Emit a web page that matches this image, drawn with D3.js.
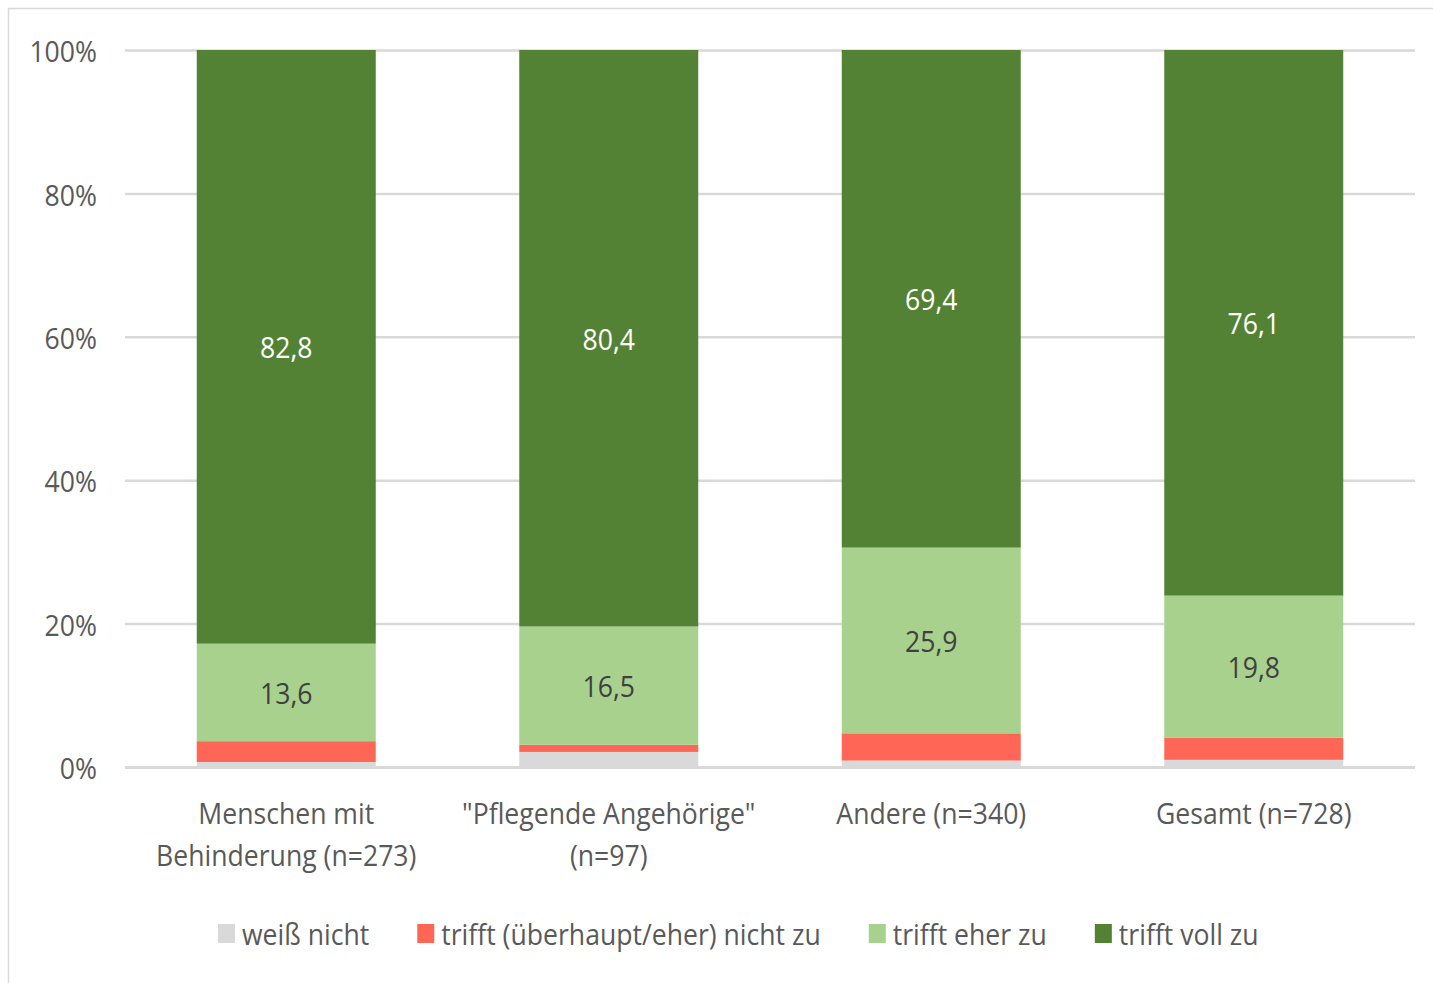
<!DOCTYPE html>
<html>
<head>
<meta charset="utf-8">
<script src="https://cdn.jsdelivr.net/npm/d3@7"></script>
<style>
  body { margin: 0; background: #fff; }
  svg text { font-family: "Open Sans", sans-serif; }
</style>
</head>
<body>
<div id="chart"></div>
<script>
// Daten
const categories = ['Menschen mit Behinderung (n=273)', '"Pflegende Angehörige" (n=97)', 'Andere (n=340)', 'Gesamt (n=728)'];
const categoryLines = [['Menschen mit', 'Behinderung (n=273)'], ['"Pflegende Angehörige"', '(n=97)'], ['Andere (n=340)'], ['Gesamt (n=728)']];
const seriesNames = ['weiß nicht', 'trifft (überhaupt/eher) nicht zu', 'trifft eher zu', 'trifft voll zu'];
const weissNicht = [0.7, 2.1, 0.9, 1.0];
const trifftNicht = [2.9, 1.0, 3.8, 3.1];
const trifftEher = [13.6, 16.5, 25.9, 19.8];
const trifftVoll = [82.8, 80.4, 69.4, 76.1];
const yTicks = [0, 20, 40, 60, 80, 100];

const colors = ['#d9d9d9', '#ff6655', '#a9d18e', '#548235'];
const labelColors = [null, null, '#404040', '#ffffff'];
const showLabel = [false, false, true, true];

// Größe
const width = 1433;
const height = 983;
const stretch = 1.12;  // Schrift etwas höher als breit
const fontSize = 26.6;

const svg = d3.select('#chart')
  .append('svg')
  .attr('width', width)
  .attr('height', height);

// Rahmen
svg.append('rect')
  .attr('x', 8.5).attr('y', 8.5)
  .attr('width', 1440).attr('height', 990)
  .attr('fill', 'none')
  .attr('stroke', '#d9d9d9')
  .attr('stroke-width', 1.5);

const x = d3.scaleBand()
  .domain(categories)
  .range([125, 1415])
  .paddingInner(0.445)
  .paddingOuter(0.2225);

const y = d3.scaleLinear()
  .domain([0, 100])
  .range([767, 50]);

// Gitterlinien + y-Achse
const yAxis = svg.append('g')
  .attr('transform', 'translate(125,0)')
  .call(d3.axisLeft(y).tickValues(yTicks).tickSize(-1290).tickFormat(d => d + '%').tickPadding(28));
yAxis.select('.domain').remove();
yAxis.selectAll('.tick line')
  .attr('stroke', '#d9d9d9')
  .attr('stroke-width', d => d === 0 ? 3 : 2.5);
yAxis.selectAll('.tick text')
  .attr('fill', '#595959')
  .attr('font-size', fontSize)
  .attr('dy', null)
  .attr('dominant-baseline', 'central')
  .attr('transform', `scale(1,${stretch})`);

// Stapel
const table = categories.map((c, i) => ({
  cat: c,
  s0: weissNicht[i], s1: trifftNicht[i], s2: trifftEher[i], s3: trifftVoll[i]
}));
const stack = d3.stack().keys(['s0', 's1', 's2', 's3'])(table);

const layers = svg.append('g')
  .selectAll('g')
  .data(stack)
  .join('g')
  .attr('fill', (d, i) => colors[i]);

layers.selectAll('rect')
  .data(d => d)
  .join('rect')
  .attr('x', d => x(d.data.cat))
  .attr('width', x.bandwidth())
  .attr('y', d => y(d[1]))
  .attr('height', d => y(d[0]) - y(d[1]));

// Werte
stack.forEach((layer, i) => {
  if (!showLabel[i]) return;
  svg.append('g')
    .selectAll('text')
    .data(layer)
    .join('text')
    .attr('transform', d => `translate(${x(d.data.cat) + x.bandwidth() / 2},${y((d[0] + d[1]) / 2)}) scale(1,${stretch})`)
    .attr('text-anchor', 'middle')
    .attr('dominant-baseline', 'central')
    .attr('font-size', fontSize)
    .attr('fill', labelColors[i])
    .text(d => d3.format('.1f')(d[1] - d[0]).replace('.', ','));
});

// Kategorien
categories.forEach((c, i) => {
  categoryLines[i].forEach((line, j) => {
    svg.append('text')
      .attr('transform', `translate(${x(c) + x.bandwidth() / 2},${812 + j * 42}) scale(1,${stretch})`)
      .attr('text-anchor', 'middle')
      .attr('dominant-baseline', 'central')
      .attr('font-size', fontSize)
      .attr('fill', '#595959')
      .text(line);
  });
});

// Legende
const legend = svg.append('g');
let lx = 218;
seriesNames.forEach((name, i) => {
  legend.append('rect')
    .attr('x', lx).attr('y', 924)
    .attr('width', 17).attr('height', 19)
    .attr('fill', colors[i]);
  const t = legend.append('text')
    .attr('transform', `translate(${lx + 24},933) scale(1,${stretch})`)
    .attr('dominant-baseline', 'central')
    .attr('font-size', fontSize)
    .attr('fill', '#595959')
    .text(name);
  lx += 24 + t.node().getComputedTextLength() + 48;
});
</script>
</body>
</html>
